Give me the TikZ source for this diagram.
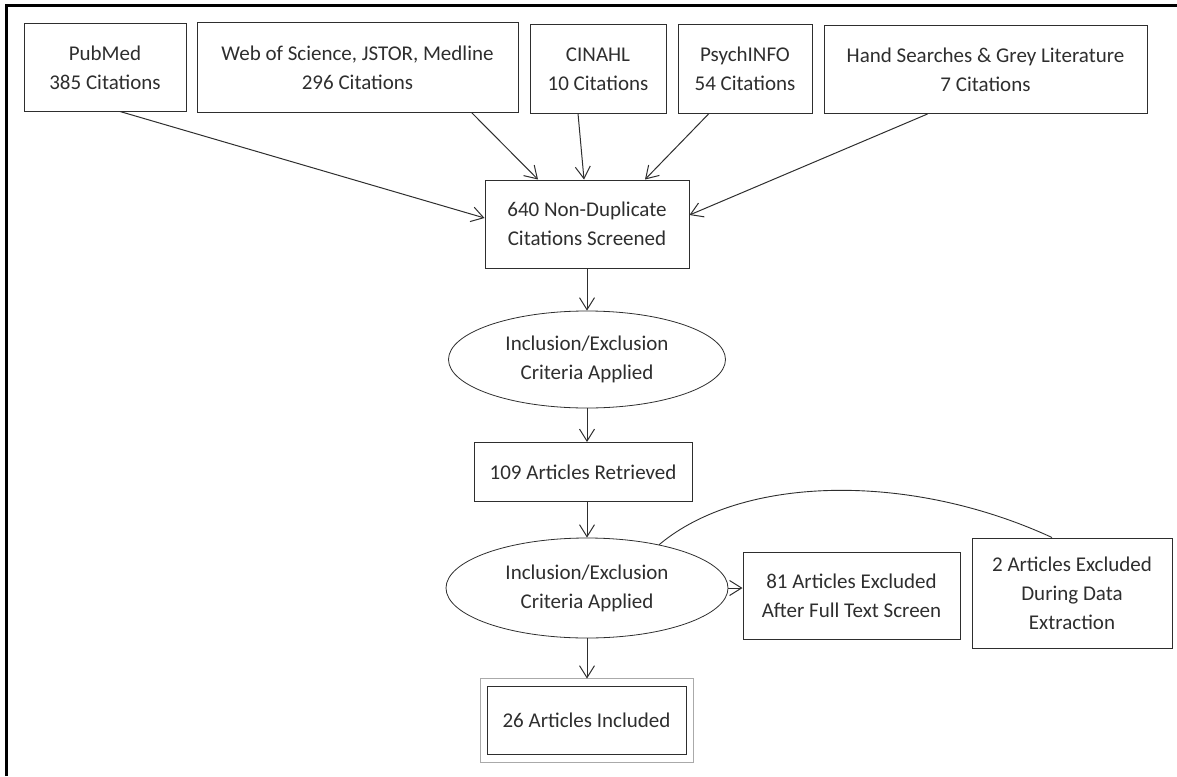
\documentclass[tikz,border=0pt]{standalone}
\usepackage{fontspec}
\setmainfont{Carlito}
\usetikzlibrary{arrows.meta,shapes.geometric}
\definecolor{ink}{HTML}{2E2E2E}
\definecolor{frame}{HTML}{AAAAAA}
\begin{document}
\begin{tikzpicture}[x=1pt,y=-1pt,
  every node/.style={font=\fontsize{21}{29}\selectfont, text=ink, align=center, inner sep=0pt},
  box/.style={draw=ink, line width=1pt, rectangle},
  oval/.style={draw=ink, line width=0.8pt, ellipse},
  arr/.style={draw=ink, line width=1pt, -{Straight Barb[length=12pt,width=15pt,line width=1pt]}},
  link/.style={draw=ink, line width=1pt}
]
\useasboundingbox (0,0) rectangle (1177,776);
% outer frame (left and top edges)
\draw[line width=3pt, black] (6.5,776) -- (6.5,6) -- (1177,6);

% sources
\node[box, minimum width=162, minimum height=87] (pub) at (105,67.5) {PubMed\\385 Citations};
\node[box, minimum width=321, minimum height=89] (wos) at (357.5,67.5) {Web of Science, JSTOR, Medline\\296 Citations};
\node[box, minimum width=136, minimum height=88] (cin) at (598,69) {CINAHL\\10 Citations};
\node[box, minimum width=134, minimum height=88] (psy) at (745,69) {PsychINFO\\54 Citations};
\node[box, minimum width=323, minimum height=88] (hand) at (985.5,69.5) {Hand Searches \& Grey Literature\\7 Citations};

% flow
\node[box, minimum width=204, minimum height=88] (scr) at (587,224) {640 Non-Duplicate\\Citations Screened};
\node[oval, minimum width=277, minimum height=97] (ell1) at (587,359.5) {Inclusion/Exclusion\\Criteria Applied};
\node[box, minimum width=218, minimum height=59] (ret) at (583,472) {109 Articles Retrieved};
\node[oval, minimum width=282, minimum height=100] (ell2) at (587,588) {Inclusion/Exclusion\\Criteria Applied};
\node[box, minimum width=217, minimum height=87] (ex81) at (851.5,595.5) {81 Articles Excluded\\After Full Text Screen};
\node[box, minimum width=200, minimum height=110] (ex2) at (1072,593) {2 Articles Excluded\\During Data\\Extraction};
\node[box, line width=0.8pt, minimum width=199, minimum height=68] (incl) at (586.5,720) {26 Articles Included};
\draw[frame, line width=1pt] ([xshift=-6pt,yshift=-8pt]incl.south west) rectangle ([xshift=7pt,yshift=7pt]incl.north east);

% connectors from sources
\draw[arr] ([xshift=15pt]pub.south) -- ([yshift=6pt]scr.west);
\draw[arr] ([xshift=114pt]wos.south) -- ([xshift=-49pt]scr.north);
\draw[arr] ([xshift=-20pt]cin.south) -- ([xshift=-3pt]scr.north);
\draw[arr] ([xshift=-36pt]psy.south) -- ([xshift=58pt]scr.north);
\draw[arr] ([xshift=-58pt]hand.south) -- ([yshift=9pt]scr.east);

% main flow
\draw[arr] (scr.south -| ell1.north) -- (ell1.north);
\draw[arr] (ell1.south) -- (ell1.south |- ret.north);
\draw[arr] (ell1.south |- ret.south) -- (ell2.north);
\draw[arr] (ell2.east) -- (ell2.east -| ex81.west);
\draw[arr] (ell2.south) -- ([yshift=7pt]ell2.south |- incl.north);

% curved link
\draw[link, line width=0.9pt] (ell2.31) .. controls (742,475) and (910,472) .. ([xshift=-20pt]ex2.north);
\end{tikzpicture}
\end{document}
